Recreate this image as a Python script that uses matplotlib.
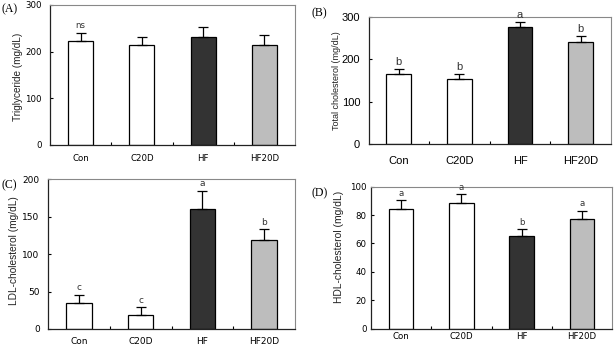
import matplotlib
matplotlib.use("Agg")
import matplotlib.pyplot as plt
import numpy as np

categories = ["Con", "C20D", "HF", "HF20D"]

tg_mean = [223, 215, 232, 215]
tg_err = [18, 17, 21, 20]
tg_letters = ["ns", "", "", ""]

tc_mean = [165, 153, 275, 241]
tc_err = [11, 12, 12, 13]
tc_letters = ["b", "b", "a", "b"]

ldl_mean = [35, 19, 160, 119]
ldl_err = [11, 10, 25, 14]
ldl_letters = ["c", "c", "a", "b"]

hdl_mean = [84, 88.5, 65.5, 77]
hdl_err = [6.8, 6.3, 4.7, 6.2]
hdl_letters = ["a", "a", "b", "a"]

bar_colors = ["white", "white", "#333333", "#bdbdbd"]

W, H = 615, 348
fig = plt.figure(figsize=(W / 100, H / 100), dpi=100)

narrow = ["Liberation Sans Narrow", "Liberation Sans", "DejaVu Sans"]
wide = ["DejaVu Sans"]
plain = ["Liberation Sans", "DejaVu Sans"]

# (label, l, r, t, b, mean, err, letters, ymax, yticks, ylabel, label pos,
#  tick font, tick size, xpad, ypad, ylabel size, ylabel x px, ylabel y px)
panels = [
    ("(A)", 50, 295, 5, 145, tg_mean, tg_err, tg_letters, 300, [0, 100, 200, 300],
     "Triglyceride (mg/dL)", (1, 9), wide, 6.2, 6.5, 6, 7.2, 23, 77),
    ("(B)", 368.5, 611, 16.7, 144.3, tc_mean, tc_err, tc_letters, 300, [0, 100, 200, 300],
     "Total cholesterol (mg/dL)", (311, 13), narrow, 8, 8.5, 6, 6.5, 340.5, 81),
    ("(C)", 48, 295, 179.3, 329, ldl_mean, ldl_err, ldl_letters, 200, [0, 50, 100, 150, 200],
     "LDL-cholesterol (mg/dL)", (1, 185), wide, 6.5, 5.5, 6, 7.3, 19, 251),
    ("(D)", 371, 612, 186.7, 328.5, hdl_mean, hdl_err, hdl_letters, 100, [0, 20, 40, 60, 80, 100],
     "HDL-cholesterol (mg/dL)", (312, 193), wide, 6.2, 2.5, 3, 7.4, 343.5, 247),
]

for (label, l, r, t, b, mean, err, letters, ymax, yticks, ylabel, lpos,
     tfam, tfs, xpad, ypad, ylfs, ylx, yly) in panels:
    ax = fig.add_axes([l / W, (H - b) / H, (r - l) / W, (b - t) / H])
    x = np.arange(len(categories))
    ax.bar(x, mean, width=0.41, color=bar_colors, edgecolor="black", linewidth=0.9, zorder=2)
    ax.errorbar(x, mean, yerr=[np.zeros(len(err)), err], fmt="none", ecolor="black",
                elinewidth=0.9, capsize=3.5, capthick=0.9, zorder=3)
    for xi, m, e, txt in zip(x, mean, err, letters):
        if txt:
            ax.annotate(txt, (xi, m + e), xytext=(0, 1.5), textcoords="offset points",
                        ha="center", va="bottom", fontsize=tfs, family=tfam, color="#333333")
    ax.set_xlim(-0.5, 3.5)
    ax.set_ylim(0, ymax)
    ax.set_yticks(yticks)
    ax.set_yticklabels([str(v) for v in yticks], family=tfam, fontsize=tfs)
    ax.set_xticks(x)
    ax.set_xticklabels(categories, family=tfam, fontsize=tfs)
    ax.tick_params(axis="x", which="major", length=0, pad=xpad)
    ax.set_xticks([0.5, 1.5, 2.5], minor=True)
    ax.tick_params(axis="x", which="minor", direction="in", length=2, width=0.8)
    ax.tick_params(axis="y", direction="in", length=2, width=0.8, pad=ypad)
    ax.set_ylabel(ylabel, family=plain, fontsize=ylfs, color="#222222")
    ax.yaxis.set_label_coords((ylx - l) / (r - l), (b - yly) / (b - t))
    for s in ["left", "bottom"]:
        ax.spines[s].set_color("#222222")
        ax.spines[s].set_linewidth(0.9)
    for s in ["top", "right"]:
        ax.spines[s].set_color("#888888")
        ax.spines[s].set_linewidth(0.8)
    fig.text(lpos[0] / W, 1 - lpos[1] / H, label, family=["Liberation Serif", "DejaVu Serif"],
             fontsize=8.5, ha="left", va="center")

fig.savefig("out.png", dpi=100, facecolor="white")
